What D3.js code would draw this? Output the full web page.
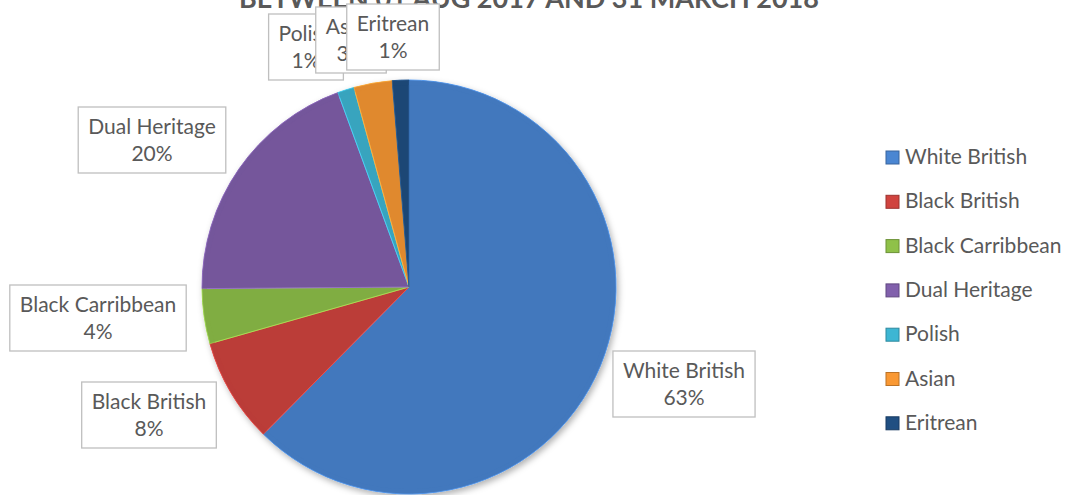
<!DOCTYPE html>
<html>
<head>
<meta charset="utf-8">
<script src="https://cdn.jsdelivr.net/npm/d3@7"></script>
<style>
  body { margin: 0; background: #fff; }
  svg text { font-family: Lato, "Open Sans", sans-serif; fill: #595959; }
</style>
</head>
<body>
<script>
const title = 'BETWEEN 01 AUG 2017 AND 31 MARCH 2018'
const categories = ['White British', 'Black British', 'Black Carribbean', 'Dual Heritage', 'Polish', 'Asian', 'Eritrean']
const shares = [62.6, 8.2, 4.3, 19.6, 1.3, 3.0, 1.3]
const colors = ['#4a86d2', '#d0433f', '#8fc149', '#8160ac', '#3db6d3', '#f99833', '#204f82']

// data labels were dragged around by hand in the original, so they get fixed spots
const labelSpots = [[684, 384], [149, 415], [98, 318], [152, 140], [306, 47], [351, 40], [393, 37]]

const width = 1075, height = 495
const center = {x: 409, y: 287}
const radius = 207

const svg = d3.select('body').append('svg')
  .attr('width', width)
  .attr('height', height)

const defs = svg.append('defs')
colors.forEach((c, i) => {
  const g = defs.append('radialGradient')
    .attr('id', 'grad' + i)
    .attr('gradientUnits', 'userSpaceOnUse')
    .attr('cx', center.x).attr('cy', center.y - 40).attr('r', radius * 1.2)
  g.append('stop').attr('offset', '0%').attr('stop-color', d3.color(c).brighter(0.1))
  g.append('stop').attr('offset', '75%').attr('stop-color', c)
  g.append('stop').attr('offset', '100%').attr('stop-color', d3.color(c).darker(0.3))
})
const shadow = defs.append('filter').attr('id', 'shadow')
  .attr('x', '-10%').attr('y', '-10%').attr('width', '120%').attr('height', '120%')
shadow.append('feDropShadow').attr('dx', 2).attr('dy', 3).attr('stdDeviation', 3)
  .attr('flood-color', '#000').attr('flood-opacity', 0.3)

svg.append('text')
  .attr('x', 529).attr('y', 8)
  .attr('text-anchor', 'middle')
  .style('font-size', '27px')
  .style('font-weight', 'bold')
  .text(title)

const pie = d3.pie().sort(null).value((d) => d.value)
const arcs = pie(categories.map((name, i) => ({name, value: shares[i], i})))
const arc = d3.arc().innerRadius(0).outerRadius(radius)
const rim = d3.arc().innerRadius(radius - 5).outerRadius(radius)

const pieG = svg.append('g')
  .attr('transform', `translate(${center.x},${center.y})`)

pieG.append('g').attr('filter', 'url(#shadow)')
  .selectAll('path').data(arcs).enter().append('path')
  .attr('d', arc)
  .attr('fill', (d) => `url(#grad${d.data.i})`)
  .attr('stroke', (d) => d3.color(colors[d.data.i]).brighter(0.4))
  .attr('stroke-width', 1)

// soft bevel along the outer rim
pieG.append('g').selectAll('path').data(arcs).enter().append('path')
  .attr('d', rim)
  .attr('fill', (d) => d3.color(colors[d.data.i]).darker(0.3))
  .attr('opacity', 0.45)

const fmt = d3.format('.0%')
const labels = svg.append('g')
arcs.forEach((d, i) => {
  const [lx, ly] = labelSpots[i]
  const g = labels.append('g').attr('transform', `translate(${lx},${ly})`)
  const box = g.append('rect')
  const t1 = g.append('text').attr('text-anchor', 'middle').attr('y', -6)
    .style('font-size', '21px').text(d.data.name)
  g.append('text').attr('text-anchor', 'middle').attr('y', 21)
    .style('font-size', '21px').text(fmt(d.data.value / 100))
  const w = t1.node().getComputedTextLength() + 20
  box.attr('x', -w / 2).attr('y', -33).attr('width', w).attr('height', 66)
    .attr('fill', '#fff').attr('stroke', '#bfbfbf').attr('stroke-width', 1.3)
})

const legend = svg.append('g').attr('transform', 'translate(886,157)')
const item = legend.selectAll('g').data(categories).enter().append('g')
  .attr('transform', (d, i) => `translate(0,${i * 44.3})`)
item.append('rect')
  .attr('x', 0).attr('y', -6).attr('width', 13).attr('height', 13)
  .attr('fill', (d, i) => colors[i])
  .attr('stroke', (d, i) => d3.color(colors[i]).darker(0.8))
  .attr('stroke-width', 1)
item.append('text')
  .attr('x', 19).attr('y', 7)
  .style('font-size', '21px')
  .text((d) => d)
</script>
</body>
</html>
